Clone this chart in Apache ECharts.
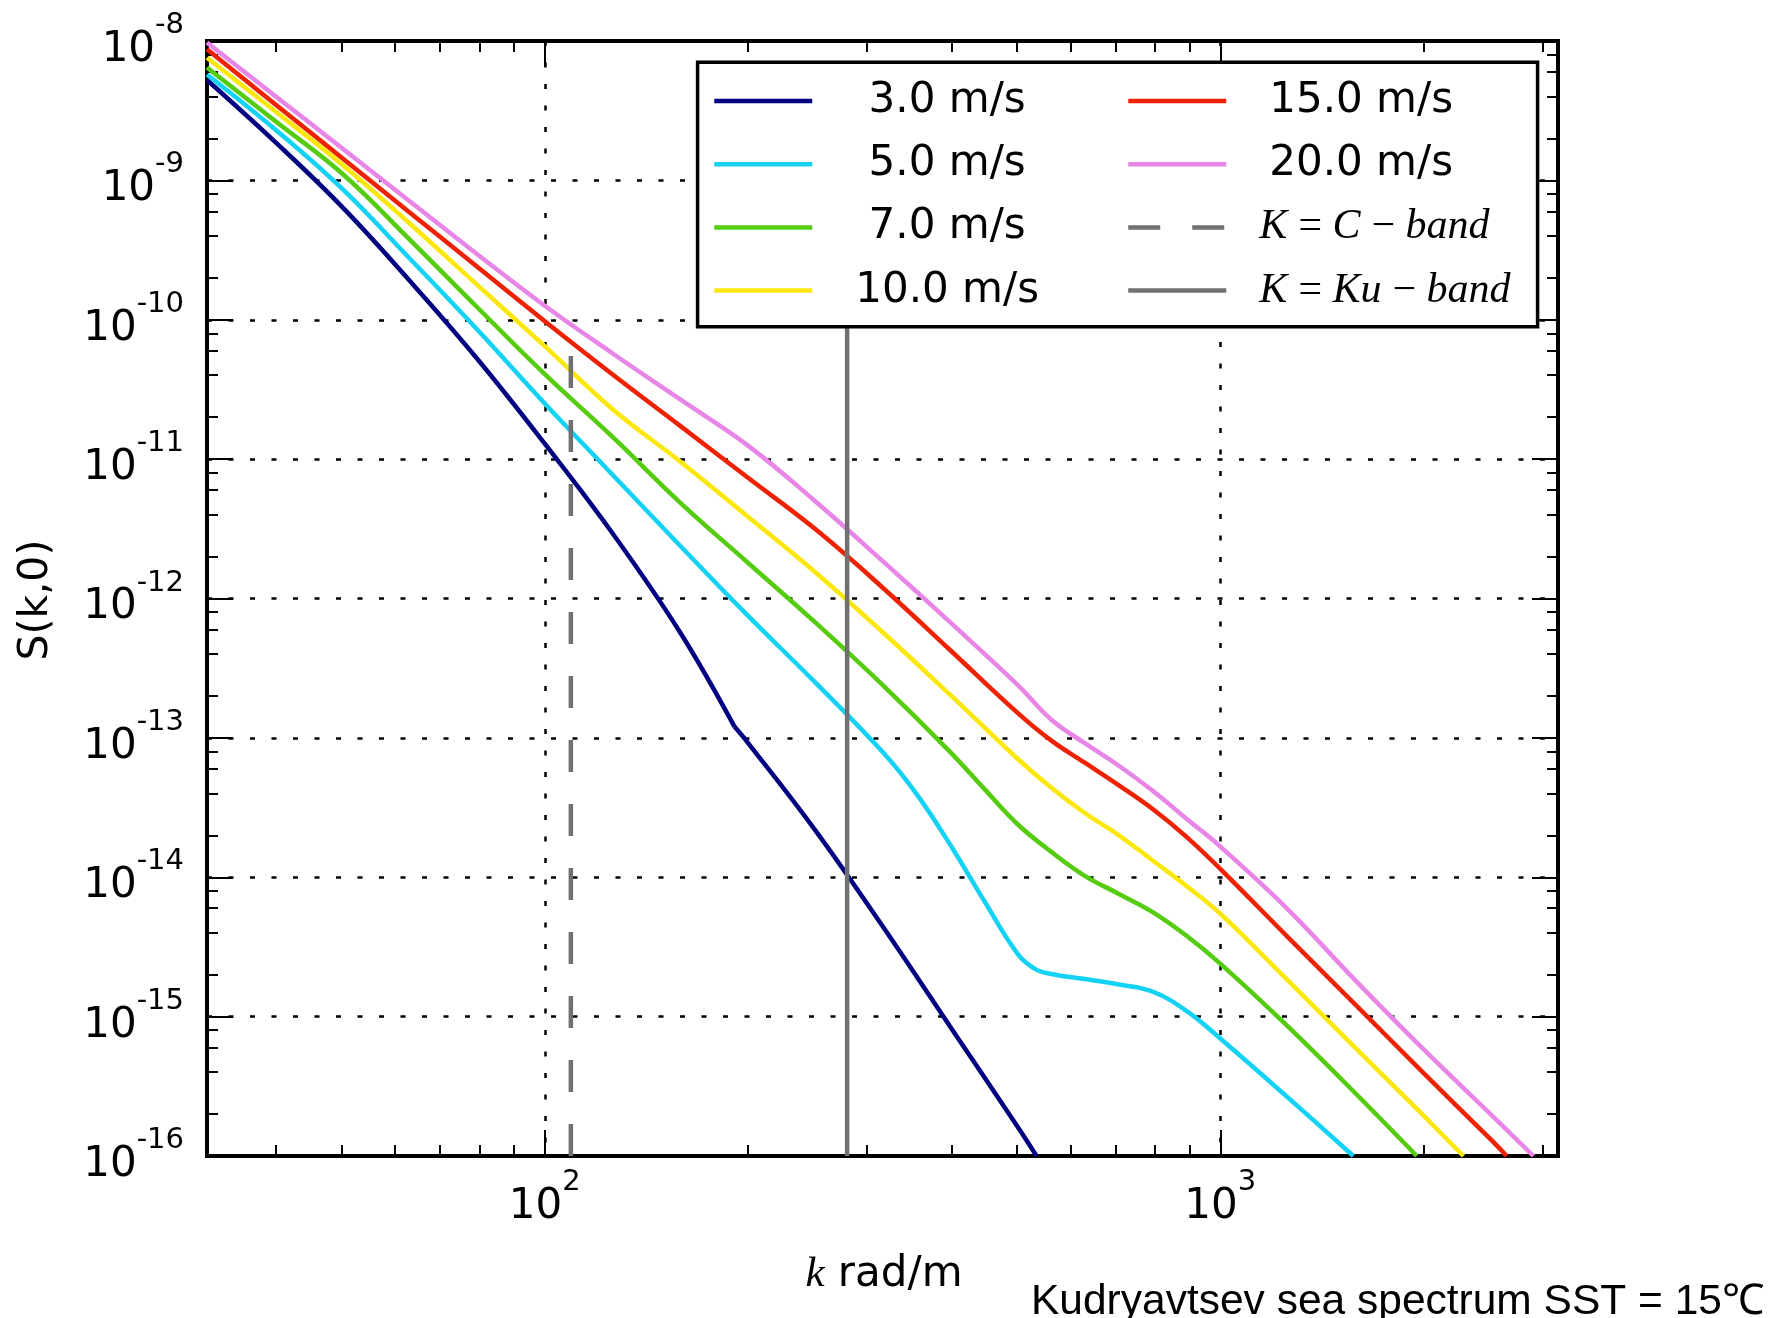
<!DOCTYPE html>
<html>
<head>
<meta charset="utf-8">
<script src="https://cdn.jsdelivr.net/npm/echarts@6/dist/echarts.min.js"></script>
<style>html,body{margin:0;padding:0;background:#fff}#c{width:1773px;height:1318px}</style>
</head>
<body>
<div id="c"></div>
<script>
// ---------------- data ----------------
const seriesNames = [' 3.0 m/s', ' 5.0 m/s', ' 7.0 m/s', '10.0 m/s', '15.0 m/s', '20.0 m/s'];
const bandNames = ['K\u2009=\u2009C\u2009\u2212\u2009band', 'K\u2009=\u2009Ku\u2009\u2212\u2009band'];
const seriesColors = ['#000080', '#14d2f4', '#55cc10', '#fbe80a', '#ee2200', '#e886e8'];

const k3 = [31.62, 39.81, 50.12, 63.10, 79.43, 100, 125.9, 158.5, 191.0, 199.5, 251.2, 316.2, 398.1, 501.2, 534.6];
const s3 = [5.25e-9, 1.905e-9, 6.46e-10, 1.905e-10, 5.25e-11, 1.29e-11, 2.95e-12, 5.75e-13, 1.20e-13, 9.33e-14, 2.19e-14, 4.47e-15, 8.51e-16, 1.62e-16, 1e-16];
const k3Kink = 191.0; // the 3 m/s curve has a sharp corner here

const k5 = [31.62, 39.81, 50.12, 63.10, 79.43, 100, 125.9, 158.5, 199.5, 251.2, 316.2, 354.8, 398.1, 446.7, 501.2, 530.9, 562.3, 631.0, 707.9, 794.3, 891.3, 1000, 1259, 1574];
const s5 = [5.75e-9, 2.34e-9, 8.71e-10, 2.75e-10, 8.51e-11, 2.51e-11, 7.76e-12, 2.40e-12, 7.59e-13, 2.51e-13, 7.94e-14, 3.98e-14, 1.72e-14, 6.84e-15, 2.82e-15, 2.21e-15, 2.02e-15, 1.86e-15, 1.70e-15, 1.51e-15, 1.10e-15, 6.97e-16, 2.63e-16, 1e-16];

const k7 = [31.62, 39.81, 50.12, 63.10, 79.43, 100, 125.9, 158.5, 199.5, 251.2, 316.2, 398.1, 446.7, 501.2, 562.3, 631.0, 707.9, 794.3, 891.3, 1000, 1259, 1585, 1954];
const s7 = [6.46e-9, 2.69e-9, 1.12e-9, 3.76e-10, 1.23e-10, 4.07e-11, 1.45e-11, 4.90e-12, 1.82e-12, 6.76e-13, 2.40e-13, 7.94e-14, 4.34e-14, 2.40e-14, 1.52e-14, 1.02e-14, 7.59e-15, 5.62e-15, 3.80e-15, 2.40e-15, 8.51e-16, 2.82e-16, 1e-16];

const k10 = [31.62, 39.81, 50.12, 63.10, 79.43, 100, 125.9, 158.5, 199.5, 251.2, 316.2, 398.1, 501.2, 562.3, 631.0, 707.9, 794.3, 891.3, 1000, 1259, 1585, 1995, 2291];
const s10 = [7.59e-9, 3.16e-9, 1.30e-9, 4.90e-10, 1.78e-10, 6.46e-11, 2.29e-11, 9.64e-12, 3.89e-12, 1.55e-12, 5.75e-13, 2.04e-13, 7.08e-14, 4.39e-14, 2.88e-14, 2.0e-14, 1.32e-14, 8.65e-15, 5.48e-15, 1.82e-15, 5.97e-16, 1.97e-16, 1e-16];

const k15 = [31.62, 39.81, 50.12, 63.10, 79.43, 100, 125.9, 158.5, 199.5, 251.2, 316.2, 398.1, 501.2, 562.3, 631.0, 707.9, 794.3, 891.3, 1000, 1259, 1585, 1995, 2512, 2655];
const s15 = [8.71e-9, 3.55e-9, 1.45e-9, 5.89e-10, 2.40e-10, 9.77e-11, 4.07e-11, 1.74e-11, 7.41e-12, 3.16e-12, 1.20e-12, 4.27e-13, 1.51e-13, 9.55e-14, 6.61e-14, 4.57e-14, 3.09e-14, 1.95e-14, 1.15e-14, 3.72e-15, 1.22e-15, 3.98e-16, 1.32e-16, 1e-16];

const k20 = [31.62, 39.81, 50.12, 63.10, 79.43, 100, 125.9, 158.5, 199.5, 251.2, 316.2, 398.1, 501.2, 562.3, 631.0, 707.9, 794.3, 891.3, 1000, 1259, 1585, 1995, 2512, 2908];
const s20 = [9.77e-9, 4.07e-9, 1.70e-9, 7.08e-10, 2.95e-10, 1.26e-10, 5.75e-11, 2.69e-11, 1.26e-11, 5.01e-12, 1.86e-12, 6.76e-13, 2.40e-13, 1.35e-13, 9.12e-14, 6.31e-14, 4.17e-14, 2.63e-14, 1.66e-14, 5.89e-15, 1.82e-15, 5.89e-16, 2.0e-16, 1e-16];

const kC = 109.3, kKu = 280.3;
const cBandY = [1e-16, 5.7e-11];
const kuBandY = [1e-16, 1e-9];

const xMin = 31.622776601683793, xMax = 3162.2776601683795;
const yMin = 1e-16, yMax = 1e-8;
const xMajor = [100, 1000];
const xMinor = [40, 50, 60, 70, 80, 90, 200, 300, 400, 500, 600, 700, 800, 900, 2000, 3000];
const yMajor = [1e-16, 1e-15, 1e-14, 1e-13, 1e-12, 1e-11, 1e-10, 1e-9, 1e-8];
const yMinor = [];
for (let e = -16; e < -8; e++) { [2, 4, 6, 8].forEach(m => yMinor.push(parseFloat((m + 'e' + e)))); }

const xTitle = 'rad/m';
const yTitle = 'S(k,0)';
const noteText = 'Kudryavtsev sea spectrum SST = 15\u2103';

// ---------------- chart ----------------
const kList = [k3, k5, k7, k10, k15, k20];
const sList = [s3, s5, s7, s10, s15, s20];

const fmtPow = v => '{b|10}{s|' + Math.round(Math.log10(v)) + '}';
const richPow = {
  b: { fontFamily: 'DejaVu Sans', fontSize: 42, lineHeight: 60, verticalAlign: 'bottom', color: '#000' },
  s: { fontFamily: 'DejaVu Sans', fontSize: 29, lineHeight: 29, verticalAlign: 'top', color: '#000' }
};
const tickStyle = { color: '#000', width: 2 };
const gridLine = { show: true, lineStyle: { color: '#000', width: 2.5, type: [5, 16.5] } };

function xAx(pos, major) {
  return {
    type: 'log', logBase: 10, min: xMin, max: xMax, position: pos, gridIndex: 0,
    axisLine: { show: false, onZero: false },
    axisTick: { show: true, inside: true, length: major ? 26 : 11, customValues: major ? xMajor : xMinor, lineStyle: tickStyle },
    axisLabel: (major && pos === 'bottom') ?
      { show: true, customValues: xMajor, margin: 12, formatter: fmtPow, rich: richPow, showMinLabel: true, showMaxLabel: true } :
      { show: false },
    splitLine: (major && pos === 'bottom') ? gridLine : { show: false },
    minorTick: { show: false }, minorSplitLine: { show: false }
  };
}
function yAx(pos, major) {
  return {
    type: 'log', logBase: 10, min: yMin, max: yMax, position: pos, gridIndex: 0,
    axisLine: { show: false, onZero: false },
    axisTick: { show: true, inside: true, length: major ? 26 : 11, customValues: major ? yMajor : yMinor, lineStyle: tickStyle },
    axisLabel: (major && pos === 'left') ?
      { show: true, customValues: yMajor, margin: 23, formatter: fmtPow, rich: richPow, showMinLabel: true, showMaxLabel: true } :
      { show: false },
    splitLine: (major && pos === 'left') ? gridLine : { show: false },
    minorTick: { show: false }, minorSplitLine: { show: false }
  };
}

function lineSeries(name, color, ks, ss) {
  return {
    name: name, type: 'line', xAxisIndex: 0, yAxisIndex: 0,
    data: ks.map((k, j) => [k, ss[j]]),
    symbol: 'none', smooth: 0.4,
    color: color,
    lineStyle: { color: color, width: 4.5 },
    z: 2, clip: true
  };
}

const series = [];
// 3 m/s drawn in two smooth pieces so the corner at k3Kink stays sharp
const kinkIdx = k3.indexOf(k3Kink);
series.push(lineSeries(seriesNames[0], seriesColors[0], k3.slice(0, kinkIdx + 1), s3.slice(0, kinkIdx + 1)));
series.push(lineSeries(seriesNames[0], seriesColors[0], k3.slice(kinkIdx), s3.slice(kinkIdx)));
for (let i = 1; i < seriesNames.length; i++) {
  series.push(lineSeries(seriesNames[i], seriesColors[i], kList[i], sList[i]));
}
series.push({
  name: bandNames[0], type: 'line', xAxisIndex: 0, yAxisIndex: 0,
  data: cBandY.map(v => [kC, v]), symbol: 'none', color: '#707070',
  lineStyle: { color: '#707070', width: 4.5, type: [32, 32] }, z: 2
});
series.push({
  name: bandNames[1], type: 'line', xAxisIndex: 0, yAxisIndex: 0,
  data: kuBandY.map(v => [kKu, v]), symbol: 'none', color: '#707070',
  lineStyle: { color: '#707070', width: 4.5 }, z: 2
});

function legendCfg(names, left) {
  return {
    data: names, orient: 'vertical', left: left, top: 76, padding: 0,
    itemWidth: 98, itemHeight: 20, itemGap: 13.2, selectedMode: false,
    lineStyle: { width: 4.5 }, itemStyle: { opacity: 0, borderWidth: 0 },
    formatter: n => n.charAt(0) === 'K' ? '{m|' + n + '}' : '{n|' + n + '}',
    textStyle: {
      fontFamily: 'DejaVu Sans', fontSize: 42, lineHeight: 50, color: '#000',
      rich: {
        n: { fontFamily: 'DejaVu Sans', fontSize: 42, lineHeight: 50, color: '#000', padding: [0, 0, 0, 38] },
        m: { fontFamily: 'Liberation Serif', fontStyle: 'italic', fontSize: 42, lineHeight: 50, color: '#000', padding: [0, 0, 0, 28] }
      }
    },
    z: 5
  };
}

const option = {
  animation: false,
  backgroundColor: '#fff',
  grid: { left: 207, top: 41, width: 1351, height: 1115, show: true, borderColor: '#000', borderWidth: 4, backgroundColor: 'transparent' },
  xAxis: [xAx('bottom', true), xAx('bottom', false), xAx('top', true), xAx('top', false)],
  yAxis: [yAx('left', true), yAx('left', false), yAx('right', true), yAx('right', false)],
  legend: [legendCfg(seriesNames.slice(0, 4), 712), legendCfg([seriesNames[4], seriesNames[5], bandNames[0], bandNames[1]], 1126)],
  graphic: [
    { type: 'rect', z: 3, shape: { x: 697.6, y: 62.2, width: 840, height: 264.6 }, style: { fill: '#fff', stroke: '#000', lineWidth: 3.5 } },
    { type: 'text', z: 6, x: 36, y: 600, rotation: Math.PI / 2,
      style: { text: yTitle, font: '41px "DejaVu Sans"', fill: '#000', textAlign: 'center', textVerticalAlign: 'middle' } },
    { type: 'text', z: 6, x: 884, y: 1275,
      style: { text: '{i|k} ' + xTitle, font: '42px "DejaVu Sans"', fill: '#000', textAlign: 'center', textVerticalAlign: 'middle',
        rich: { i: { fontFamily: 'Liberation Serif', fontStyle: 'italic', fontSize: 43, fill: '#000' } } } },
    { type: 'text', z: 6, x: 1031, y: 1302,
      style: { text: noteText, font: '42.5px "Liberation Sans"', fill: '#000', textAlign: 'left', textVerticalAlign: 'middle' } }
  ],
  series: series
};

const chart = echarts.init(document.getElementById('c'), null, { renderer: 'canvas' });
chart.setOption(option);
</script>
</body>
</html>
